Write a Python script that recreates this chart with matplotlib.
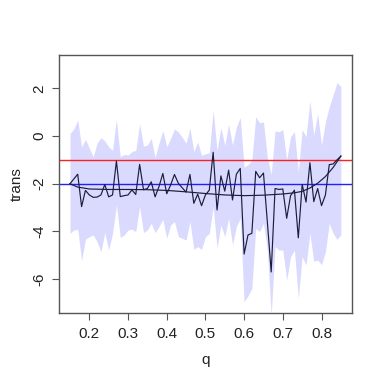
import matplotlib
matplotlib.use("Agg")
from matplotlib import pyplot as plt

plt.rcParams["font.family"] = ["Liberation Sans", "DejaVu Sans"]
plt.rcParams["axes.unicode_minus"] = False

# q grid
Q = [0.15, 0.16, 0.17, 0.18, 0.19, 0.20, 0.21, 0.22, 0.23, 0.24,
     0.25, 0.26, 0.27, 0.28, 0.29, 0.30, 0.31, 0.32, 0.33, 0.34,
     0.35, 0.36, 0.37, 0.38, 0.39, 0.40, 0.41, 0.42, 0.43, 0.44,
     0.45, 0.46, 0.47, 0.48, 0.49, 0.50, 0.51, 0.52, 0.53, 0.54,
     0.55, 0.56, 0.57, 0.58, 0.59, 0.60, 0.61, 0.62, 0.63, 0.64,
     0.65, 0.66, 0.67, 0.68, 0.69, 0.70, 0.71, 0.72, 0.73, 0.74,
     0.75, 0.76, 0.77, 0.78, 0.79, 0.80, 0.81, 0.82, 0.83, 0.84,
     0.85]

# observed trans values
TRANS = [-2.00, -1.80, -1.60, -2.96, -2.28, -2.47, -2.57, -2.56, -2.47, -2.03,
         -2.55, -2.47, -1.05, -2.54, -2.50, -2.47, -2.26, -2.45, -1.19, -2.25,
         -2.20, -1.92, -2.55, -2.12, -1.57, -2.42, -2.06, -1.61, -1.98, -2.17,
         -2.35, -1.61, -2.82, -2.44, -2.92, -2.47, -2.27, -0.68, -3.10, -1.67,
         -2.31, -1.43, -2.68, -1.60, -1.36, -4.95, -4.15, -4.08, -1.48, -1.75,
         -1.55, -3.60, -5.70, -2.20, -2.24, -2.22, -3.45, -2.50, -2.27, -4.27,
         -2.03, -2.77, -1.12, -2.75, -2.20, -2.92, -2.48, -1.20, -1.17, -1.00,
         -0.84]

# band limits
UPPER = [0.11, 0.30, 0.67, -0.45, -0.14, -0.50, -0.87, -0.30, -0.07, -0.20,
         -0.45, -0.60, 0.70, -0.87, -0.77, -0.80, -0.65, -0.60, 0.52, -0.42,
         -0.38, -0.10, -0.90, -0.30, 0.23, -0.45, -0.10, 0.30, 0.17, -0.05,
         -0.30, 0.33, -0.65, -0.25, -0.80, -0.75, -0.70, 1.09, -0.60, 0.35,
         -0.38, 0.49, -0.38, 0.38, 0.78, -1.30, -1.20, -1.00, 0.81, 0.56,
         0.59, -0.90, -1.60, 0.22, 0.18, 0.27, -1.00, -0.03, 0.18, -1.50,
         0.27, -0.03, 1.48, 0.04, 0.95, -0.38, 0.60, 1.23, 1.72, 2.25,
         2.07]
LOWER = [-4.08, -3.94, -3.91, -5.23, -4.33, -4.22, -4.15, -4.43, -4.85, -4.05,
         -4.78, -4.08, -2.89, -4.25, -4.15, -3.94, -3.91, -4.01, -2.96, -4.05,
         -3.94, -3.66, -4.05, -3.80, -3.49, -4.29, -3.73, -3.59, -4.22, -4.29,
         -4.36, -3.59, -4.75, -4.64, -4.75, -4.22, -4.08, -2.96, -4.70, -3.73,
         -4.22, -3.45, -4.57, -3.80, -3.45, -6.95, -6.70, -6.39, -3.87, -4.01,
         -3.66, -4.78, -7.50, -4.64, -4.78, -4.78, -6.04, -5.06, -4.78, -6.81,
         -5.06, -5.40, -4.08, -5.26, -5.20, -5.40, -4.85, -3.66, -4.08, -4.33,
         -4.15]

# smooth fit
SMOOTH_Q = [0.15, 0.17, 0.20, 0.25, 0.30, 0.35, 0.40, 0.45, 0.50, 0.55,
            0.60, 0.65, 0.70, 0.73, 0.75, 0.77, 0.79, 0.81, 0.83, 0.85]
SMOOTH = [-2.00, -2.14, -2.22, -2.24, -2.24, -2.25, -2.28, -2.34, -2.41, -2.47,
          -2.50, -2.48, -2.43, -2.38, -2.32, -2.18, -1.98, -1.70, -1.32, -0.84]

REF_RED = -1.0
REF_BLUE = -2.0

X_TICKS = [0.2, 0.3, 0.4, 0.5, 0.6, 0.7, 0.8]
Y_TICKS = [-6, -4, -2, 0, 2]

LINE_COLOR = "#1c1c3c"

fig = plt.figure(figsize=(3.82, 3.82), dpi=100)
ax = fig.add_axes([0.1545, 0.1814, 0.767, 0.6746])

ax.fill_between(Q, LOWER, UPPER, color="#dadaff", linewidth=0)
ax.axhline(REF_RED, color="#ff2020", linewidth=1.0)
ax.axhline(REF_BLUE, color="#2020ff", linewidth=1.0)
ax.plot(Q, TRANS, color=LINE_COLOR, linewidth=0.85)
ax.plot(SMOOTH_Q, SMOOTH, color=LINE_COLOR, linewidth=0.85)

ax.set_xlim(0.1217, 0.8788)
ax.set_ylim(-7.41, 3.40)
ax.set_xticks(X_TICKS)
ax.set_xticklabels([f"{v:.1f}" for v in X_TICKS])
ax.set_yticks(Y_TICKS)
ax.set_yticklabels([str(v) for v in Y_TICKS], rotation=90, va="center")

for spine in ax.spines.values():
    spine.set_color("#555555")
    spine.set_linewidth(1.0)
ax.tick_params(axis="both", direction="out", length=5, width=0.8,
               color="#555555", labelsize=11, labelcolor="#222222")
ax.tick_params(axis="x", pad=5)
ax.tick_params(axis="y", pad=4)

ax.set_xlabel("q", fontsize=11, labelpad=9, color="#222222")
ax.set_ylabel("trans", fontsize=11, labelpad=6, color="#222222")

fig.savefig("out.png", dpi=100)
